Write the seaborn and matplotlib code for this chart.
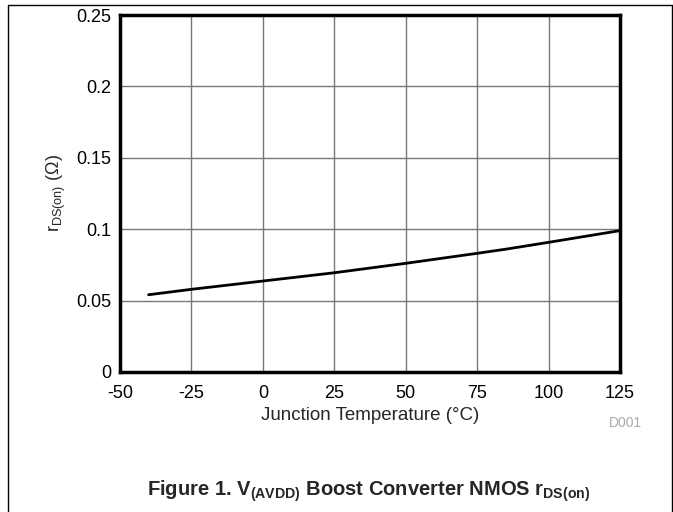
import matplotlib
matplotlib.use('Agg')
import matplotlib.pyplot as plt
import seaborn as sns
import pandas as pd

# values
temp_c = [-40, -25, 0, 25, 50, 75, 85, 100, 125]
rdson = [0.0541, 0.0579, 0.0637, 0.0695, 0.0761, 0.0831, 0.0860, 0.0908, 0.0990]

x_ticks = [-50, -25, 0, 25, 50, 75, 100, 125]
y_ticks = [0, 0.05, 0.1, 0.15, 0.2, 0.25]
y_tick_labels = ['0', '0.05', '0.1', '0.15', '0.2', '0.25']

df = pd.DataFrame({'temp': temp_c, 'rdson': rdson})

sns.set_style('white')
plt.rcParams['font.family'] = ['Liberation Sans', 'DejaVu Sans']
plt.rcParams['mathtext.fontset'] = 'custom'
plt.rcParams['mathtext.rm'] = 'Liberation Sans'
plt.rcParams['mathtext.bf'] = 'Liberation Sans:bold'

fig = plt.figure(figsize=(6.73, 5.12), dpi=100)
ax = fig.add_axes([120 / 673, 1 - 372 / 512, 500 / 673, 357 / 512])

sns.lineplot(data=df, x='temp', y='rdson', ax=ax, color='black', linewidth=2)

ax.set_xlim(-50, 125)
ax.set_ylim(0, 0.25)
ax.set_xticks(x_ticks)
ax.set_xticklabels([str(t) for t in x_ticks])
ax.set_yticks(y_ticks)
ax.set_yticklabels(y_tick_labels)
ax.tick_params(length=0, labelsize=13, colors='black')
ax.tick_params(axis='x', pad=9)
ax.tick_params(axis='y', pad=6)
ax.grid(True, color='#777777', linewidth=1)
for s in ax.spines.values():
    s.set_visible(True)
    s.set_color('black')
    s.set_linewidth(2.5)

ax.set_xlabel('Junction Temperature (°C)', fontsize=13.5, labelpad=4)
ax.set_ylabel(r'r$_{\mathrm{DS(on)}}$ ($\Omega$)', fontsize=13, labelpad=6)

fig.text(625 / 673, 1 - 423 / 512, 'D001', fontsize=10, color='#aaaaaa',
         ha='center', va='center')
fig.text(369 / 673, 1 - 491 / 512,
         r'Figure 1. V$_{\mathbf{(AVDD)}}$ Boost Converter NMOS r$_{\mathbf{DS(on)}}$',
         fontsize=14.5, fontweight='bold', ha='center', va='center')

# page frame (left, top, right edges)
fig.add_artist(plt.Line2D([8 / 673, 8 / 673], [0, 1 - 5 / 512], color='black', linewidth=1,
                          transform=fig.transFigure))
fig.add_artist(plt.Line2D([8 / 673, 671.5 / 673], [1 - 5 / 512, 1 - 5 / 512], color='black',
                          linewidth=1, transform=fig.transFigure))
fig.add_artist(plt.Line2D([671.5 / 673, 671.5 / 673], [0, 1 - 5 / 512], color='black',
                          linewidth=1, transform=fig.transFigure))

fig.savefig('out.png', dpi=100)
